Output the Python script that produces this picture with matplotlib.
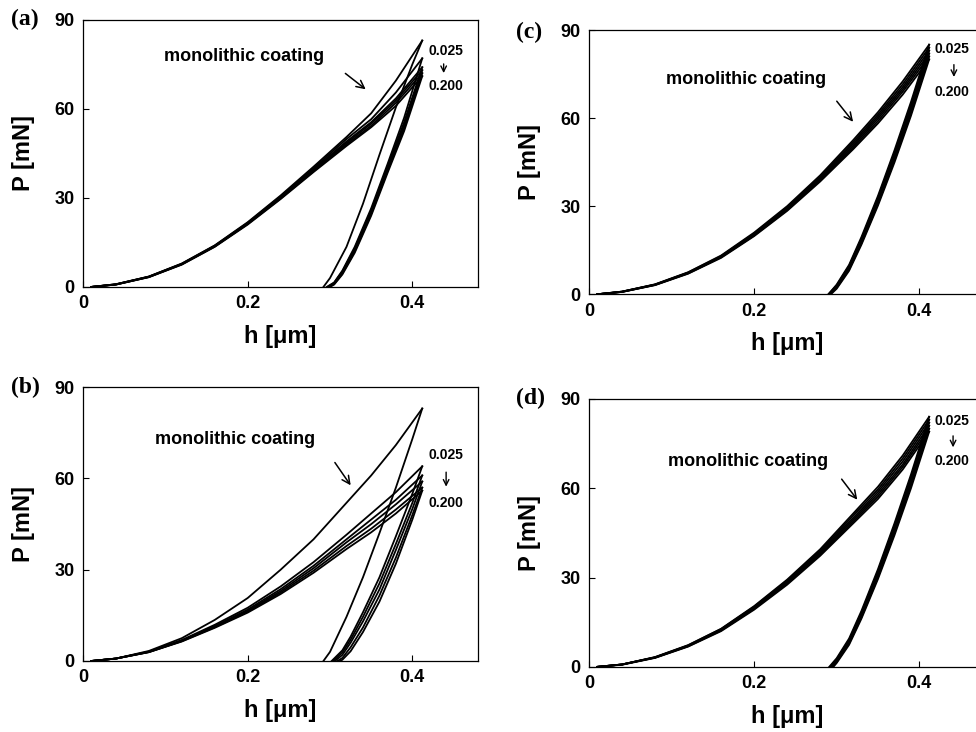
import matplotlib as mpl
mpl.use('Agg')
from matplotlib import pyplot as plt

mpl.rcParams['font.family'] = ['Liberation Sans', 'DejaVu Sans']
mpl.rcParams['font.weight'] = 'bold'

# depth grid for the loading branches [um]
H_LOAD = [0.010, 0.040, 0.080, 0.120, 0.160, 0.200, 0.240, 0.280, 0.320, 0.350, 0.380, 0.412]

# ---------------- panel (a) ----------------
a_load_mono = [0, 0.9, 3.5, 7.9, 14.0, 21.8, 30.8, 40.5, 50.5, 58.5, 69.5, 83.0]
a_load = [
    [0, 0.9, 3.5, 7.8, 13.9, 21.6, 30.5, 40.0, 49.8, 56.5, 65.5, 77.0],
    [0, 0.9, 3.4, 7.7, 13.8, 21.4, 30.2, 39.6, 49.0, 55.5, 63.5, 74.0],
    [0, 0.8, 3.4, 7.7, 13.7, 21.3, 30.0, 39.3, 48.5, 55.0, 62.8, 73.0],
    [0, 0.8, 3.3, 7.6, 13.6, 21.2, 29.8, 39.0, 48.0, 54.3, 62.0, 72.0],
    [0, 0.8, 3.3, 7.5, 13.5, 21.0, 29.6, 38.7, 47.5, 53.8, 61.0, 71.0],
]
a_unload_h_mono = [0.292, 0.300, 0.320, 0.340, 0.360, 0.380, 0.400, 0.412]
a_unload_mono = [0, 3.0, 13.5, 28.0, 44.5, 60.5, 75.0, 83.0]
a_hf = [0.296, 0.297, 0.298, 0.299, 0.300]
a_unload_h = [0.305, 0.315, 0.330, 0.350, 0.370, 0.390, 0.412]
a_unload = [
    [1.5, 5.5, 13.5, 26.5, 41.5, 57.0, 77.0],
    [1.4, 5.2, 13.0, 25.8, 40.6, 55.5, 74.0],
    [1.2, 4.8, 12.5, 25.2, 39.9, 54.5, 73.0],
    [1.0, 4.5, 12.0, 24.6, 39.2, 53.5, 72.0],
    [0.8, 4.2, 11.5, 24.0, 38.5, 52.5, 71.0],
]

# ---------------- panel (b) ----------------
b_load_mono = [0, 0.8, 3.3, 7.5, 13.5, 20.7, 30.0, 40.0, 52.0, 61.0, 71.0, 83.0]
b_load = [
    [0, 0.8, 3.1, 6.9, 11.9, 17.5, 24.5, 32.5, 41.5, 48.5, 55.5, 64.0],
    [0, 0.8, 3.0, 6.7, 11.5, 16.9, 23.6, 31.3, 40.0, 46.5, 53.0, 61.0],
    [0, 0.8, 3.0, 6.6, 11.3, 16.5, 23.0, 30.5, 39.0, 45.0, 51.5, 59.0],
    [0, 0.8, 2.9, 6.5, 11.1, 16.2, 22.5, 29.7, 37.8, 43.5, 49.8, 57.0],
    [0, 0.8, 2.9, 6.4, 10.9, 15.9, 22.0, 29.0, 36.8, 42.3, 48.5, 56.0],
]
b_unload_h_mono = [0.292, 0.300, 0.320, 0.340, 0.360, 0.380, 0.400, 0.412]
b_unload_mono = [0, 3.0, 14.5, 27.5, 42.0, 57.0, 73.0, 83.0]
b_hf = [0.302, 0.304, 0.306, 0.309, 0.312]
b_unload_h = [0.315, 0.325, 0.340, 0.360, 0.380, 0.400, 0.412]
b_unload = [
    [3.5, 8.0, 16.0, 27.5, 41.0, 55.0, 64.0],
    [2.8, 7.0, 14.5, 25.5, 38.5, 52.0, 61.0],
    [2.0, 6.0, 13.0, 23.5, 36.5, 50.0, 59.0],
    [1.0, 4.5, 11.0, 21.5, 34.0, 48.0, 57.0],
    [0.4, 3.2, 9.5, 19.5, 32.0, 46.5, 56.0],
]

# ---------------- panel (c) ----------------
c_load_mono = [0, 0.9, 3.4, 7.5, 13.2, 21.0, 30.0, 40.5, 52.5, 62.0, 72.5, 85.0]
c_load = [
    [0, 0.9, 3.3, 7.4, 13.0, 20.7, 29.6, 40.0, 51.8, 61.2, 71.5, 84.0],
    [0, 0.9, 3.3, 7.3, 12.9, 20.5, 29.3, 39.6, 51.2, 60.5, 70.6, 83.0],
    [0, 0.8, 3.2, 7.2, 12.7, 20.2, 29.0, 39.2, 50.6, 59.8, 69.8, 82.0],
    [0, 0.8, 3.2, 7.1, 12.6, 20.0, 28.7, 38.8, 50.0, 59.0, 69.0, 81.0],
    [0, 0.8, 3.1, 7.0, 12.4, 19.8, 28.4, 38.4, 49.4, 58.2, 68.0, 80.0],
]
c_unload_h_mono = [0.290, 0.300, 0.315, 0.330, 0.350, 0.370, 0.390, 0.412]
c_unload_mono = [0, 3.3, 10.0, 19.5, 33.5, 49.0, 65.5, 85.0]
c_hf = [0.290, 0.291, 0.291, 0.292, 0.293]
c_unload_h = [0.300, 0.315, 0.330, 0.350, 0.370, 0.390, 0.412]
c_unload = [
    [3.0, 9.6, 18.9, 32.8, 48.1, 64.5, 84.0],
    [2.7, 9.2, 18.4, 32.1, 47.3, 63.5, 83.0],
    [2.5, 8.8, 17.9, 31.4, 46.5, 62.6, 82.0],
    [2.2, 8.4, 17.4, 30.8, 45.7, 61.7, 81.0],
    [1.9, 8.0, 16.9, 30.2, 44.9, 60.8, 80.0],
]

# ---------------- panel (d) ----------------
d_load_mono = [0, 0.8, 3.3, 7.3, 12.8, 20.4, 29.3, 39.5, 51.5, 60.5, 71.0, 84.0]
d_load = [
    [0, 0.8, 3.2, 7.2, 12.7, 20.2, 29.0, 39.0, 50.8, 59.6, 70.0, 83.0],
    [0, 0.8, 3.2, 7.1, 12.5, 19.9, 28.6, 38.6, 50.0, 58.8, 69.0, 82.0],
    [0, 0.8, 3.1, 7.0, 12.4, 19.7, 28.3, 38.2, 49.4, 58.0, 68.0, 81.0],
    [0, 0.8, 3.1, 6.9, 12.2, 19.5, 28.0, 37.8, 48.8, 57.2, 67.2, 80.0],
    [0, 0.7, 3.0, 6.8, 12.0, 19.2, 27.6, 37.3, 48.2, 56.4, 66.3, 79.0],
]
d_unload_h_mono = [0.291, 0.300, 0.315, 0.330, 0.350, 0.370, 0.390, 0.412]
d_unload_mono = [0, 2.9, 9.5, 18.8, 32.8, 48.2, 64.6, 84.0]
d_hf = [0.292, 0.293, 0.294, 0.295, 0.296]
d_unload_h = [0.300, 0.315, 0.330, 0.350, 0.370, 0.390, 0.412]
d_unload = [
    [2.5, 9.0, 18.2, 32.1, 47.4, 63.6, 83.0],
    [2.2, 8.6, 17.7, 31.4, 46.6, 62.7, 82.0],
    [1.9, 8.2, 17.2, 30.7, 45.8, 61.8, 81.0],
    [1.6, 7.8, 16.7, 30.1, 45.0, 60.9, 80.0],
    [1.3, 7.4, 16.2, 29.5, 44.2, 60.0, 79.0],
]

X_TICKS = [0, 0.2, 0.4]
X_TICK_LABELS = ['0', '0.2', '0.4']
Y_TICKS = [0, 30, 60, 90]

LW = 1.3


def draw_panel(ax, load_mono, load, unload_h_mono, unload_mono, hf, unload_h, unload,
               text_xy, arrow_from, arrow_to, ratio_xy, ratio_arrow_x):
    ax.plot(H_LOAD, load_mono, color='k', lw=LW)
    ax.plot(unload_h_mono, unload_mono, color='k', lw=LW)
    for p_load, h0, p_unload in zip(load, hf, unload):
        ax.plot(H_LOAD, p_load, color='k', lw=LW)
        ax.plot([h0] + unload_h, [0] + p_unload, color='k', lw=LW)

    ax.set_xlim(0, 0.48)
    ax.set_ylim(0, 90)
    ax.set_xticks(X_TICKS)
    ax.set_xticklabels(X_TICK_LABELS)
    ax.set_yticks(Y_TICKS)
    ax.tick_params(direction='in', length=4, width=0.8, labelsize=13, pad=6)
    for s in ax.spines.values():
        s.set_linewidth(0.9)
    ax.set_xlabel('h [\u03bcm]', fontsize=17, fontweight='bold', labelpad=9)
    ax.set_ylabel('P [mN]', fontsize=17, fontweight='bold', labelpad=14)

    ax.text(text_xy[0], text_xy[1], 'monolithic coating', fontsize=13,
            fontweight='bold', ha='center', va='center')
    ax.annotate('', xy=arrow_to, xytext=arrow_from,
                arrowprops=dict(arrowstyle='->', color='k', lw=1.1,
                                mutation_scale=14))

    # ratio labels 0.025 -> 0.200
    rx, ry_top, ry_bot = ratio_xy
    ax.text(rx, ry_top, '0.025', fontsize=10, fontweight='bold', ha='left', va='center')
    ax.text(rx, ry_bot, '0.200', fontsize=10, fontweight='bold', ha='left', va='center')
    gap = (ry_top - ry_bot)
    ax.annotate('', xy=(ratio_arrow_x, ry_bot + gap * 0.28),
                xytext=(ratio_arrow_x, ry_top - gap * 0.3),
                arrowprops=dict(arrowstyle='->', color='k', lw=1.0))


fig = plt.figure(figsize=(9.76, 7.32), dpi=100)

ax_a = fig.add_axes([0.085, 0.608, 0.405, 0.365])
ax_b = fig.add_axes([0.085, 0.097, 0.405, 0.374])
ax_c = fig.add_axes([0.6035, 0.598, 0.406, 0.361])
ax_d = fig.add_axes([0.6035, 0.089, 0.406, 0.366])

draw_panel(ax_a, a_load_mono, a_load, a_unload_h_mono, a_unload_mono, a_hf, a_unload_h, a_unload,
           (0.196, 77.5), (0.316, 72.5), (0.346, 66.0), (0.419, 79.6, 67.8), 0.438)
draw_panel(ax_b, b_load_mono, b_load, b_unload_h_mono, b_unload_mono, b_hf, b_unload_h, b_unload,
           (0.185, 72.9), (0.304, 66.0), (0.327, 57.0), (0.419, 67.7, 52.0), 0.441)
draw_panel(ax_c, c_load_mono, c_load, c_unload_h_mono, c_unload_mono, c_hf, c_unload_h, c_unload,
           (0.190, 73.0), (0.298, 66.5), (0.322, 58.0), (0.418, 83.5, 69.0), 0.442)
draw_panel(ax_d, d_load_mono, d_load, d_unload_h_mono, d_unload_mono, d_hf, d_unload_h, d_unload,
           (0.193, 69.0), (0.304, 63.8), (0.327, 55.4), (0.419, 82.6, 69.0), 0.441)

# panel letters
for label, x, y in [('(a)', 0.011, 0.973), ('(b)', 0.011, 0.471),
                    ('(c)', 0.529, 0.956), ('(d)', 0.529, 0.455)]:
    fig.text(x, y, label, fontsize=17, fontweight='bold', family='Liberation Serif',
             ha='left', va='center')

fig.savefig('out.png', dpi=100)
